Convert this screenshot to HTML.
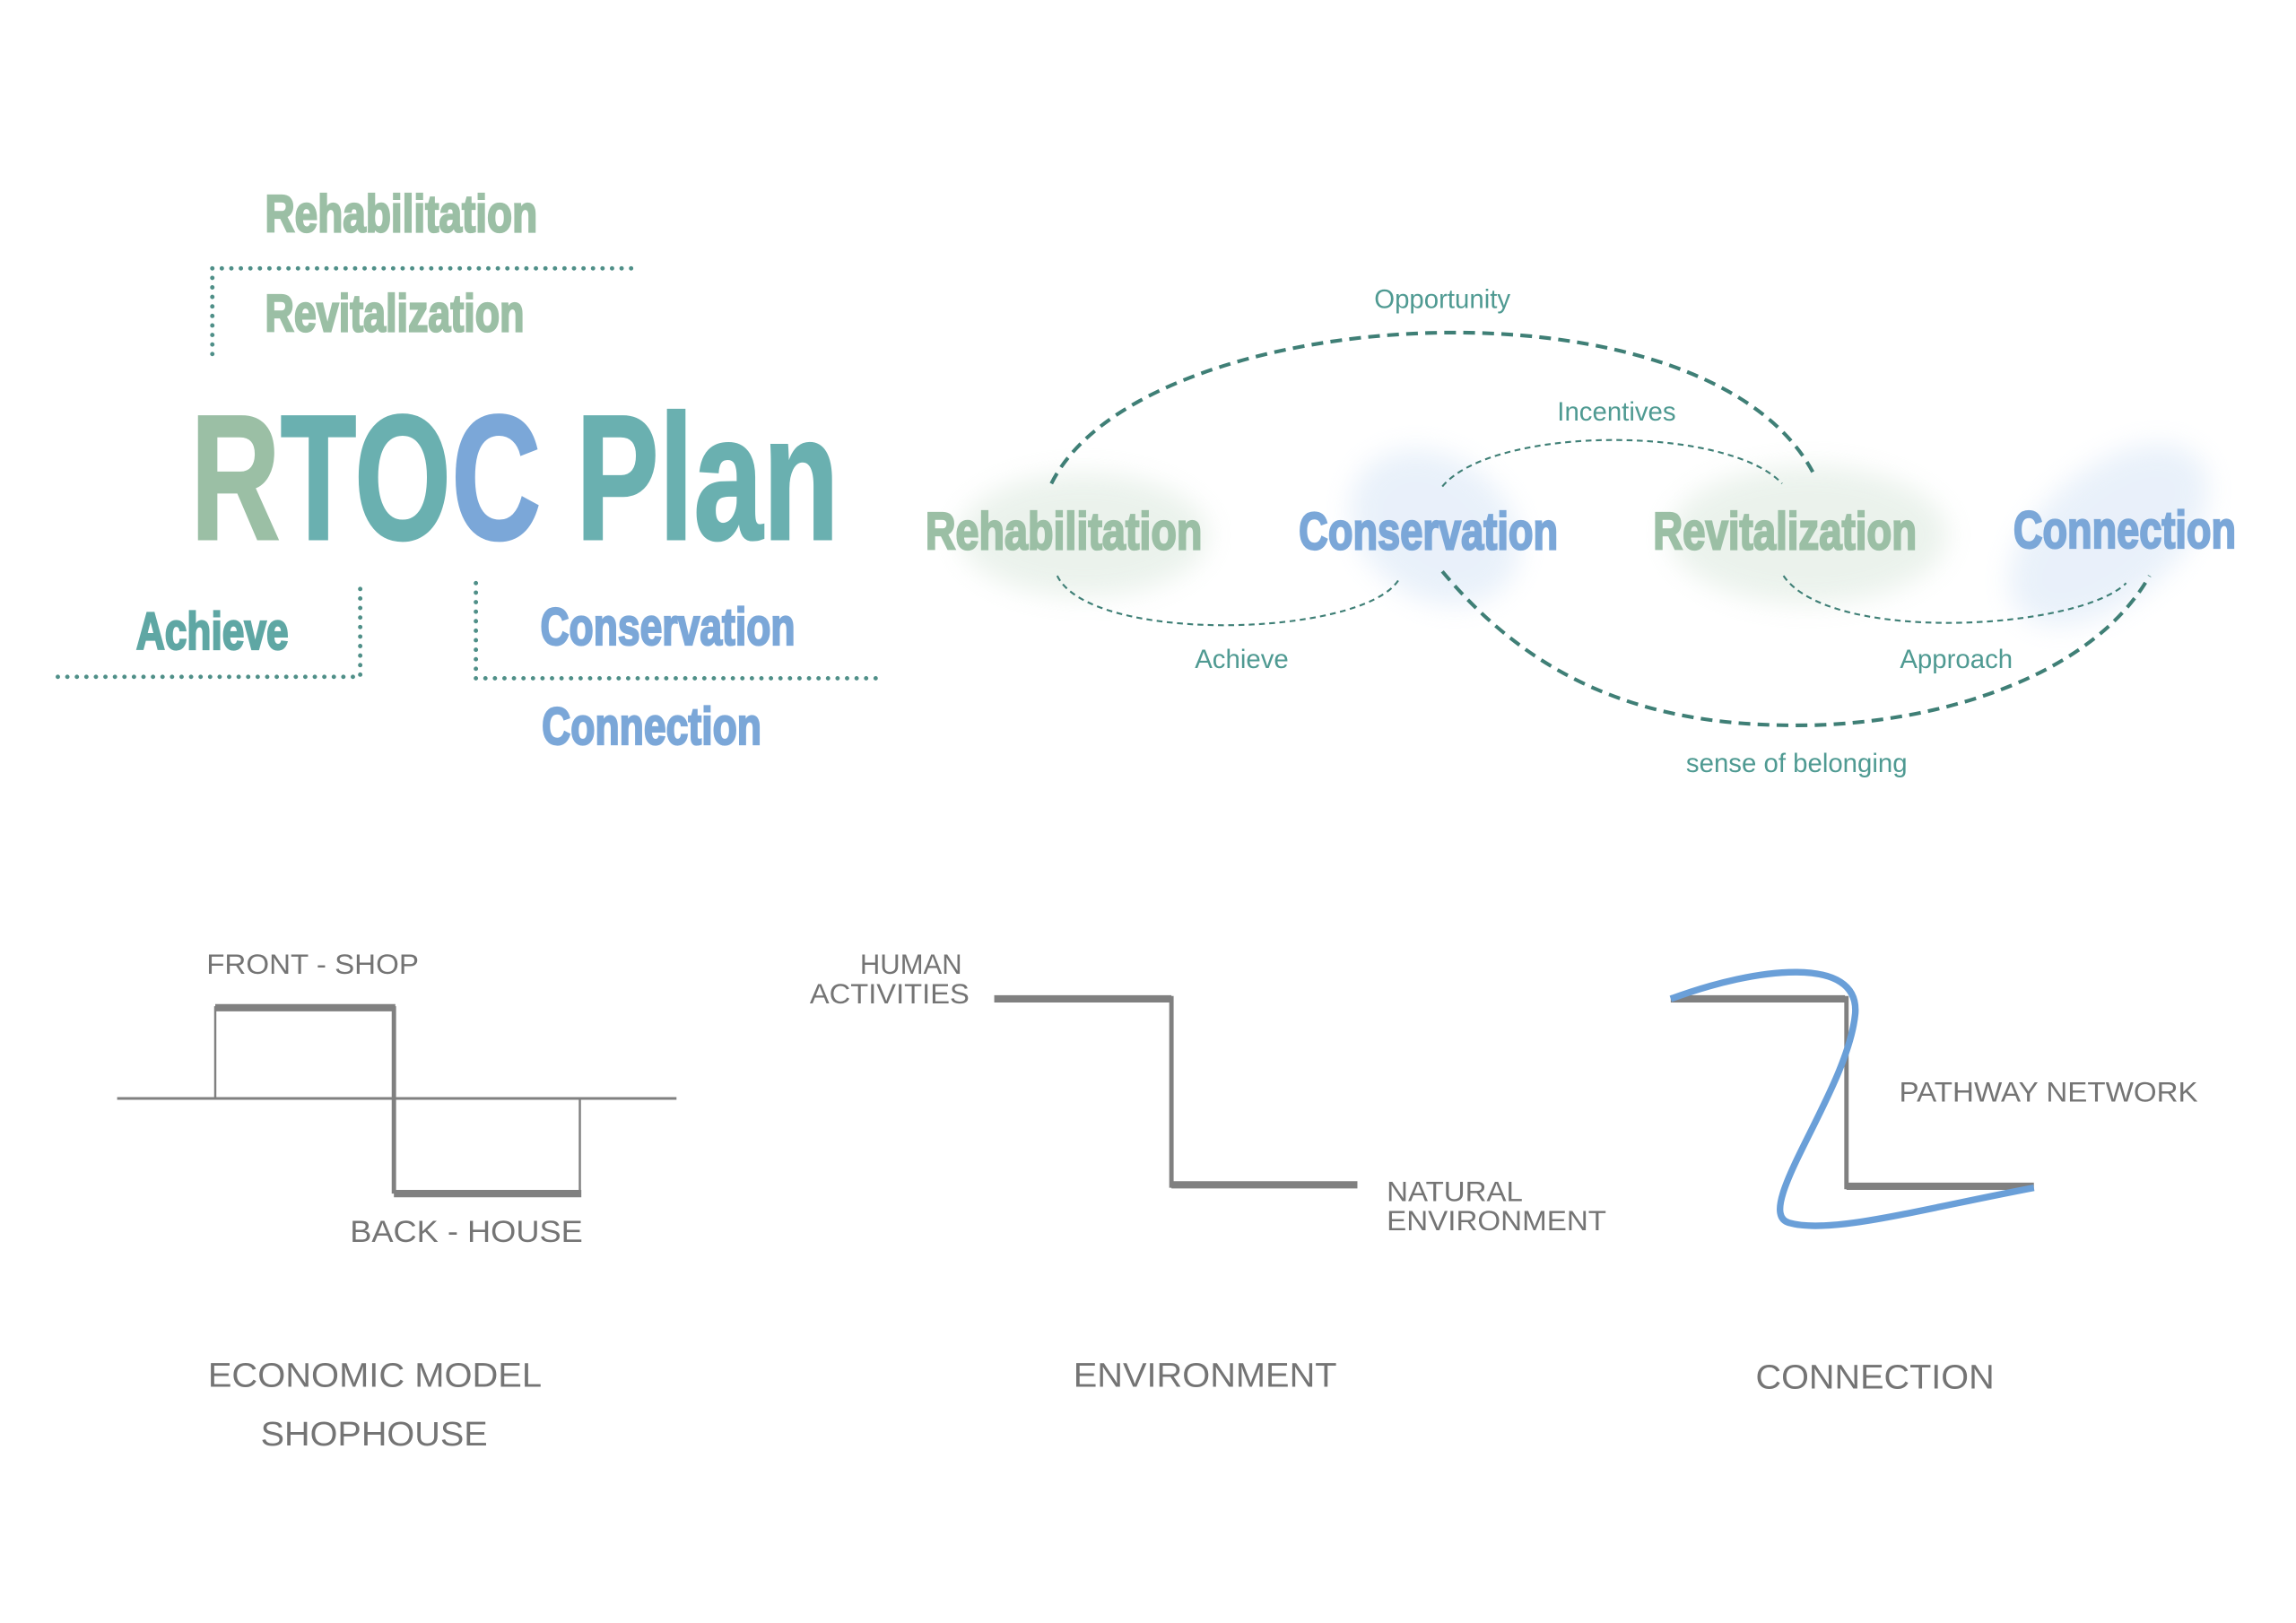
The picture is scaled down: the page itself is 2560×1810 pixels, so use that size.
<!DOCTYPE html>
<html><head><meta charset="utf-8"><style>
html,body{margin:0;padding:0;background:#fff;}
svg{display:block;}
.h{font-family:"Liberation Sans Narrow","Liberation Sans",sans-serif;font-weight:bold;stroke-width:1.4;}
.l{font-family:"Liberation Sans Narrow","Liberation Sans",sans-serif;fill:#4f9a92;font-size:18px;}
.g{font-family:"Liberation Sans Narrow","Liberation Sans",sans-serif;fill:#747474;}
</style></head><body>
<svg width="2560" height="1810" viewBox="0 0 1568 1108" xmlns="http://www.w3.org/2000/svg">
<defs>
<filter id="b" x="-30%" y="-30%" width="160%" height="160%"><feGaussianBlur stdDeviation="9"/></filter>
</defs>
<rect width="1568" height="1108" fill="#fff"/>
<text class="h" x="181" y="158" font-size="36" fill="#9bbfa5" stroke="#9bbfa5" textLength="186" lengthAdjust="spacingAndGlyphs">Rehabilitation</text>
<text class="h" x="181" y="226" font-size="36" fill="#9bbfa5" stroke="#9bbfa5" textLength="177" lengthAdjust="spacingAndGlyphs">Revitalization</text>
<g stroke="#4f8f88" stroke-width="3" stroke-linecap="round" stroke-dasharray="0 6.5" fill="none">
<path d="M145,183 H437 M145,183 V245"/>
<path d="M246,402 V462 H38"/>
<path d="M325,398 V463 H603"/>
</g>
<text class="h" x="130" y="368" font-size="122" stroke-width="4" textLength="443" lengthAdjust="spacingAndGlyphs"><tspan fill="#9bbfa5" stroke="#9bbfa5">R</tspan><tspan fill="#6ab0b0" stroke="#6ab0b0">TO</tspan><tspan fill="#7ba7d8" stroke="#7ba7d8">C</tspan><tspan fill="#6ab0b0" stroke="#6ab0b0"> Plan</tspan></text>
<text class="h" x="93" y="443" font-size="36" fill="#5fa7a4" stroke="#5fa7a4" textLength="104" lengthAdjust="spacingAndGlyphs">Achieve</text>
<text class="h" x="369" y="440" font-size="36" fill="#7ba7d8" stroke="#7ba7d8" textLength="174" lengthAdjust="spacingAndGlyphs">Conservation</text>
<text class="h" x="370" y="508" font-size="36" fill="#7ba7d8" stroke="#7ba7d8" textLength="150" lengthAdjust="spacingAndGlyphs">Connection</text>
<g filter="url(#b)" opacity="0.45">
<ellipse cx="740" cy="365" rx="85" ry="42" fill="#d3e3d6"/>
<ellipse cx="980" cy="360" rx="62" ry="48" fill="#cfe0f4" transform="rotate(35 980 360)"/>
<ellipse cx="1235" cy="365" rx="95" ry="47" fill="#d3e3d6"/>
<ellipse cx="1440" cy="365" rx="80" ry="45" fill="#cfe0f4" transform="rotate(-40 1440 365)"/>
</g>
<g fill="none" stroke="#3f7f76">
<path d="M718,330 C780,205 1170,182 1240,326" stroke-width="2.5" stroke-dasharray="8 5"/>
<path d="M985,390 C1060,480 1150,497 1240,495 C1330,492 1430,460 1468,393" stroke-width="2.5" stroke-dasharray="8 5"/>
<path d="M985,332 C1020,290 1180,290 1217,330" stroke-width="1.3" stroke-dasharray="4 3"/>
<path d="M722,393 C745,440 930,435 955,396" stroke-width="1.3" stroke-dasharray="4 3"/>
<path d="M1218,393 C1250,440 1420,430 1452,398" stroke-width="1.3" stroke-dasharray="4 3"/>
</g>
<text class="h" x="632" y="375" font-size="36" fill="#9bbfa5" stroke="#9bbfa5" textLength="189" lengthAdjust="spacingAndGlyphs">Rehabilitation</text>
<text class="h" x="887" y="375" font-size="36" fill="#7ba7d8" stroke="#7ba7d8" textLength="177" lengthAdjust="spacingAndGlyphs">Conservation</text>
<text class="h" x="1129" y="375" font-size="36" fill="#9bbfa5" stroke="#9bbfa5" textLength="180" lengthAdjust="spacingAndGlyphs">Revitalization</text>
<text class="h" x="1375" y="374" font-size="36" fill="#7ba7d8" stroke="#7ba7d8" textLength="152" lengthAdjust="spacingAndGlyphs">Connection</text>
<text class="l" x="985" y="210" text-anchor="middle">Opportunity</text>
<text class="l" x="1104" y="287" text-anchor="middle">Incentives</text>
<text class="l" x="848" y="456" text-anchor="middle">Achieve</text>
<text class="l" x="1336" y="456" text-anchor="middle">Approach</text>
<text class="l" x="1227" y="527" text-anchor="middle">sense of belonging</text>
<g stroke="#808080" fill="none">
<path d="M80,750 H462" stroke-width="1.8"/>
<path d="M147,687 V750 M396,750 V815" stroke-width="1.5"/>
<path d="M147,688 H270 M269,815 H397" stroke-width="5"/>
<path d="M269,687 V815" stroke-width="3"/>
<path d="M679,682 H800 M800,809 H927" stroke-width="5"/>
<path d="M800,680 V811" stroke-width="3"/>
<path d="M1141,682 H1260 M1261,810 H1389" stroke-width="5"/>
<path d="M1261,680 V812" stroke-width="3"/>
</g>
<path d="M1141,682 C1200,660 1270,652 1267,692 C1262,745 1195,828 1222,835 C1250,843 1310,826 1389,811" fill="none" stroke="#6a9fd8" stroke-width="4.5"/>
<text class="g" x="141" y="665" font-size="19" textLength="145" lengthAdjust="spacingAndGlyphs">FRONT - SHOP</text>
<text class="g" x="239" y="848" font-size="21" textLength="159" lengthAdjust="spacingAndGlyphs">BACK - HOUSE</text>
<text class="g" x="657" y="665" font-size="19" text-anchor="end">HUMAN</text>
<text class="g" x="553" y="685" font-size="19" textLength="109" lengthAdjust="spacingAndGlyphs">ACTIVITIES</text>
<text class="g" x="947" y="820" font-size="19" textLength="93" lengthAdjust="spacingAndGlyphs">NATURAL</text>
<text class="g" x="947" y="840" font-size="19" textLength="150" lengthAdjust="spacingAndGlyphs">ENVIRONMENT</text>
<text class="g" x="1297" y="752" font-size="19" textLength="204" lengthAdjust="spacingAndGlyphs">PATHWAY NETWORK</text>
<text class="g" x="142" y="947" font-size="23" textLength="228" lengthAdjust="spacingAndGlyphs">ECONOMIC MODEL</text>
<text class="g" x="178" y="987" font-size="23" textLength="155" lengthAdjust="spacingAndGlyphs">SHOPHOUSE</text>
<text class="g" x="733" y="947" font-size="23" textLength="180" lengthAdjust="spacingAndGlyphs">ENVIRONMENT</text>
<text class="g" x="1199" y="948" font-size="23" textLength="163" lengthAdjust="spacingAndGlyphs">CONNECTION</text>
</svg>
</body></html>
